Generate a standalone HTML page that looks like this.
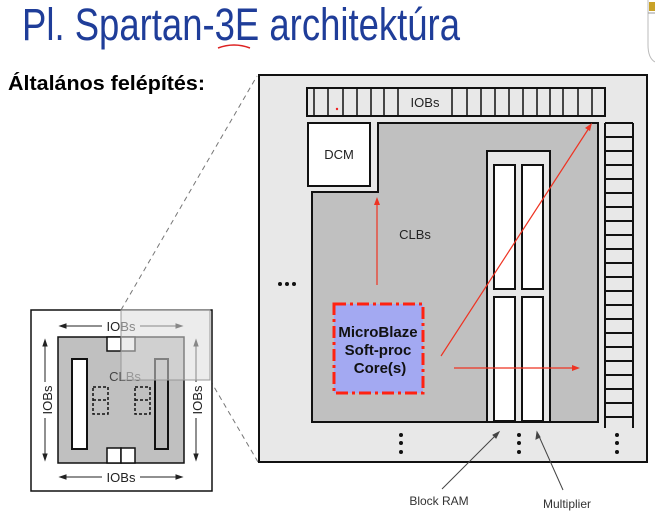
<!DOCTYPE html>
<html><head><meta charset="utf-8"><style>
html,body{margin:0;padding:0;background:#fff;}
svg{display:block;}
</style></head><body>
<svg width="655" height="513" viewBox="0 0 655 513" xmlns="http://www.w3.org/2000/svg" font-family="Liberation Sans, Arial, sans-serif">
<rect width="655" height="513" fill="#fff"/>
<path d="M648,0 L648,45 Q648,58 655,62" fill="none" stroke="#bbb" stroke-width="1"/>
<line x1="648" y1="13" x2="655" y2="13" stroke="#999"/>
<rect x="649" y="2" width="6" height="9" fill="#c9a227"/>
<text x="22" y="40" font-size="45" fill="#1f3d99" textLength="438" lengthAdjust="spacingAndGlyphs">Pl. Spartan-3E architektúra</text>
<path d="M218,48 Q234,42 250,48" fill="none" stroke="#d22" stroke-width="1.5"/>
<text x="8" y="90" font-size="20" font-weight="bold" fill="#000" textLength="197" lengthAdjust="spacingAndGlyphs">Általános felépítés:</text>

<line x1="121" y1="310" x2="257" y2="76" stroke="#777" stroke-dasharray="5,4"/>
<line x1="210" y1="380" x2="258" y2="462" stroke="#777" stroke-dasharray="5,4"/>

<rect x="259" y="75" width="388" height="387" fill="#e8e8e8" stroke="#111" stroke-width="2"/>
<rect x="307" y="88" width="298" height="28" fill="#e8e8e8" stroke="#111" stroke-width="2"/>
<g stroke="#111" stroke-width="1.5">
<line x1="314" y1="88" x2="314" y2="116"/><line x1="328" y1="88" x2="328" y2="116"/><line x1="343" y1="88" x2="343" y2="116"/><line x1="357" y1="88" x2="357" y2="116"/><line x1="371" y1="88" x2="371" y2="116"/><line x1="384" y1="88" x2="384" y2="116"/><line x1="398" y1="88" x2="398" y2="116"/>
<line x1="452" y1="88" x2="452" y2="116"/><line x1="467" y1="88" x2="467" y2="116"/><line x1="481" y1="88" x2="481" y2="116"/><line x1="495" y1="88" x2="495" y2="116"/><line x1="509" y1="88" x2="509" y2="116"/><line x1="523" y1="88" x2="523" y2="116"/><line x1="537" y1="88" x2="537" y2="116"/><line x1="550" y1="88" x2="550" y2="116"/><line x1="563" y1="88" x2="563" y2="116"/><line x1="578" y1="88" x2="578" y2="116"/><line x1="592" y1="88" x2="592" y2="116"/>
</g>
<text x="425" y="107" font-size="13" text-anchor="middle" fill="#222">IOBs</text>
<circle cx="337" cy="109" r="1.2" fill="#e22"/>
<rect x="308" y="123" width="62" height="63" fill="#fff" stroke="#111" stroke-width="2"/>
<text x="339" y="159" font-size="13" text-anchor="middle" fill="#222">DCM</text>
<path d="M378,123 L598,123 L598,422 L312,422 L312,192 L378,192 Z" fill="#c0c0c0" stroke="#111" stroke-width="2"/>
<text x="415" y="239" font-size="13" text-anchor="middle" fill="#222">CLBs</text>
<rect x="487" y="151" width="63" height="271" fill="#e8e8e8" stroke="#111" stroke-width="2"/>
<rect x="494" y="165" width="21" height="124" fill="#fff" stroke="#111" stroke-width="2"/>
<rect x="522" y="165" width="21" height="124" fill="#fff" stroke="#111" stroke-width="2"/>
<rect x="494" y="297" width="21" height="124" fill="#fff" stroke="#111" stroke-width="2"/>
<rect x="522" y="297" width="21" height="124" fill="#fff" stroke="#111" stroke-width="2"/>
<g stroke="#111" stroke-width="2">
<line x1="605" y1="123" x2="605" y2="428"/><line x1="633" y1="123" x2="633" y2="428"/>
<line x1="605" y1="123" x2="633" y2="123"/><line x1="605" y1="137" x2="633" y2="137"/><line x1="605" y1="151" x2="633" y2="151"/><line x1="605" y1="165" x2="633" y2="165"/><line x1="605" y1="179" x2="633" y2="179"/><line x1="605" y1="193" x2="633" y2="193"/><line x1="605" y1="207" x2="633" y2="207"/><line x1="605" y1="221" x2="633" y2="221"/><line x1="605" y1="235" x2="633" y2="235"/><line x1="605" y1="249" x2="633" y2="249"/><line x1="605" y1="263" x2="633" y2="263"/><line x1="605" y1="277" x2="633" y2="277"/><line x1="605" y1="291" x2="633" y2="291"/><line x1="605" y1="305" x2="633" y2="305"/><line x1="605" y1="319" x2="633" y2="319"/><line x1="605" y1="333" x2="633" y2="333"/><line x1="605" y1="347" x2="633" y2="347"/><line x1="605" y1="361" x2="633" y2="361"/><line x1="605" y1="375" x2="633" y2="375"/><line x1="605" y1="389" x2="633" y2="389"/><line x1="605" y1="403" x2="633" y2="403"/><line x1="605" y1="417" x2="633" y2="417"/>
</g>
<g fill="#111">
<circle cx="280" cy="284" r="2"/><circle cx="287" cy="284" r="2"/><circle cx="294" cy="284" r="2"/>
<circle cx="401" cy="435" r="2"/><circle cx="401" cy="443" r="2"/><circle cx="401" cy="452" r="2"/>
<circle cx="519" cy="435" r="2"/><circle cx="519" cy="443" r="2"/><circle cx="519" cy="452" r="2"/>
<circle cx="617" cy="435" r="2"/><circle cx="617" cy="443" r="2"/><circle cx="617" cy="452" r="2"/>
</g>
<rect x="334" y="304" width="89" height="89" fill="#a3a9f2" stroke="#f21" stroke-width="3" stroke-dasharray="12,4,3,4"/>
<g font-size="15" font-weight="bold" text-anchor="middle" fill="#111">
<text x="378" y="337">MicroBlaze</text>
<text x="378" y="355">Soft-proc</text>
<text x="380" y="373">Core(s)</text>
</g>
<g stroke="#e32" stroke-width="1.2" fill="#e32">
<line x1="377" y1="285" x2="377" y2="204"/><path d="M377,197 L374,205 L380,205 Z" stroke="none"/>
<line x1="441" y1="356" x2="589" y2="128"/><path d="M592,123 L585,128 L590,131 Z" stroke="none"/>
<line x1="454" y1="368" x2="574" y2="368"/><path d="M580,368 L572,365 L572,371 Z" stroke="none"/>
</g>
<g stroke="#444" stroke-width="1">
<line x1="442" y1="489" x2="498" y2="433"/><path d="M499,432 L493,435 L496,438 Z" fill="#444"/>
<line x1="563" y1="490" x2="538" y2="434"/><path d="M537,432 L536,439 L540,437 Z" fill="#444"/>
</g>
<text x="439" y="505" font-size="12" text-anchor="middle" fill="#333">Block RAM</text>
<text x="567" y="508" font-size="12" text-anchor="middle" fill="#333">Multiplier</text>

<rect x="31" y="310" width="181" height="181" fill="#fff" stroke="#111" stroke-width="1.5"/>
<rect x="58" y="337" width="126" height="126" fill="#c0c0c0" stroke="#111" stroke-width="1.5"/>
<rect x="72" y="359" width="15" height="90" fill="#fff" stroke="#111" stroke-width="2"/>
<rect x="155" y="359" width="13" height="90" fill="#bbb" stroke="#111" stroke-width="2"/>
<rect x="107" y="337" width="14" height="14" fill="#fff" stroke="#111" stroke-width="1.5"/>
<rect x="121" y="337" width="14" height="14" fill="#fff" stroke="#111" stroke-width="1.5"/>
<rect x="107" y="448" width="14" height="15" fill="#fff" stroke="#111" stroke-width="1.5"/>
<rect x="121" y="448" width="14" height="15" fill="#fff" stroke="#111" stroke-width="1.5"/>
<g fill="none" stroke="#111" stroke-width="1.5" stroke-dasharray="3,2">
<rect x="93" y="387" width="15" height="27"/><line x1="93" y1="400" x2="108" y2="400"/>
<rect x="135" y="387" width="15" height="27"/><line x1="135" y1="400" x2="150" y2="400"/>
</g>
<text x="125" y="381" font-size="13" text-anchor="middle" fill="#444">CLBs</text>
<g font-size="13" fill="#222" text-anchor="middle">
<text x="121" y="331">IOBs</text>
<text x="121" y="482">IOBs</text>
<text transform="translate(52,400) rotate(-90)">IOBs</text>
<text transform="translate(202,400) rotate(-90)">IOBs</text>
</g>
<g stroke="#222" stroke-width="1" fill="#222">
<line x1="62" y1="326" x2="102" y2="326"/><path d="M60,326 L66,324 L66,328 Z"/>
<line x1="140" y1="326" x2="180" y2="326"/><path d="M182,326 L176,324 L176,328 Z"/>
<line x1="62" y1="477" x2="102" y2="477"/><path d="M60,477 L66,475 L66,479 Z"/>
<line x1="140" y1="477" x2="180" y2="477"/><path d="M182,477 L176,475 L176,479 Z"/>
<line x1="45" y1="343" x2="45" y2="382"/><path d="M45,340 L43,346 L47,346 Z"/>
<line x1="45" y1="418" x2="45" y2="457"/><path d="M45,460 L43,454 L47,454 Z"/>
<line x1="196" y1="343" x2="196" y2="382"/><path d="M196,340 L194,346 L198,346 Z"/>
<line x1="196" y1="418" x2="196" y2="457"/><path d="M196,460 L194,454 L198,454 Z"/>
</g>
<rect x="121" y="310" width="89" height="70" fill="#ddd" fill-opacity="0.55" stroke="#999" stroke-width="1"/>
</svg>
</body></html>
